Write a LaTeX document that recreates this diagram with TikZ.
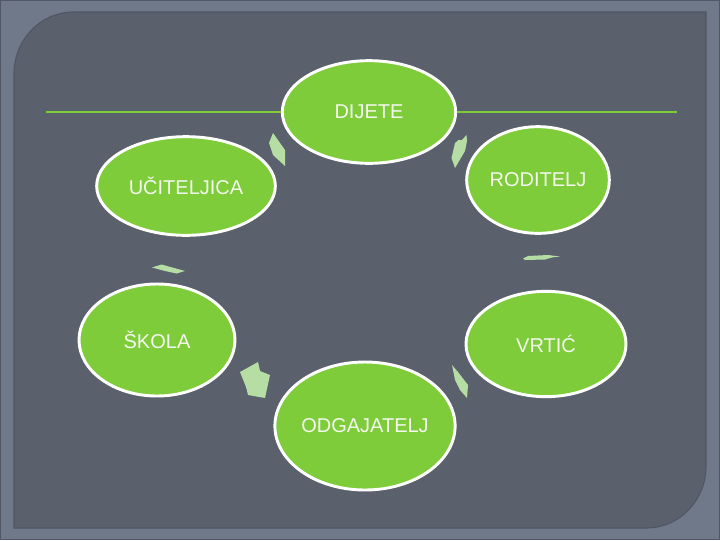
\documentclass[tikz,border=0pt]{standalone}
\usepackage{fontspec}
\setmainfont{Liberation Sans}
\usepackage{xcolor}
\usetikzlibrary{shapes.geometric, positioning}
\definecolor{frameslate}{HTML}{6F7989}
\definecolor{frameedge}{HTML}{505663}
\definecolor{panelslate}{HTML}{5A606C}
\definecolor{leafgreen}{HTML}{7ECC3A}
\definecolor{palegreen}{HTML}{B6DEA4}
\definecolor{softwhite}{HTML}{F4F8EE}
\tikzset{
  role/.style={ellipse, draw=white, line width=2.2pt, fill=leafgreen, text=softwhite, font=\fontsize{15}{18}\selectfont, inner sep=0pt},
  cyclearrow/.style={fill=palegreen, draw=none},
  rule/.style={draw=leafgreen, line width=0.9pt},
}

\begin{document}
\begin{tikzpicture}[x=0.75pt, y=-0.75pt]
  \useasboundingbox (0,0) rectangle (720,540);

  % Slide frame and panel
  \fill[frameslate] (0,0) rectangle (720,540);
  \draw[frameedge, line width=1pt] (0.5,0.5) rectangle (719.5,539.5);
  \filldraw[fill=panelslate, draw=frameedge, line width=0.8pt] (14,528) -- (14,74) .. controls (14,40) and (40,12) .. (74,12) -- (706,12) -- (706,466) .. controls (706,500) and (680,528) .. (646,528) -- cycle;

  % Roles
  \node[role, minimum width=130pt, minimum height=77pt] (dijete) at (369,112) {DIJETE};
  \node[role, minimum width=107pt, minimum height=80pt] (roditelj) at (538,180) {RODITELJ};
  \node[role, minimum width=134pt, minimum height=74pt] (uciteljica) at (186,186) {UČITELJICA};
  \node[role, minimum width=117pt, minimum height=84pt] (skola) at (157,340) {ŠKOLA};
  \node[role, minimum width=120pt, minimum height=79pt] (vrtic) at (546,344) {VRTIĆ};
  \node[role, minimum width=134pt, minimum height=96pt] (odgajatelj) at (365,426) {ODGAJATELJ};

  % Title rule
  \coordinate (ruleL) at (46,112);
  \coordinate (ruleR) at (677,112);
  \draw[rule] (ruleL) -- (dijete.west);
  \draw[rule] (dijete.east) -- (ruleR);

  % Cycle arrows
  \fill[cyclearrow] (273,133) -- (285,150) -- (285,166) -- (273,155) -- (269,143) -- cycle;
  \fill[cyclearrow] (466.5,135) -- (467,141) -- (465,151) -- (455,168) -- (451.5,158) -- (455,143) -- (458.5,140) -- (462,140) -- cycle;
  \fill[cyclearrow] (152,267.5) -- (161.5,264.5) -- (185,271) -- (176.5,273.5) -- (165,271) -- cycle;
  \fill[cyclearrow] (523,258.5) -- (528,256) -- (548,255) -- (560,256.5) -- (552,257.5) -- (545,259.5) -- (525,260) -- cycle;
  \fill[cyclearrow] (240,372) -- (258,362) -- (260,371) -- (270,375) -- (265,398) -- (248,395) -- (246,387) -- cycle;
  \fill[cyclearrow] (452,365) -- (458,372) -- (468,385) -- (467,398) -- (460,390) -- (455,380) -- cycle;
\end{tikzpicture}
\end{document}
